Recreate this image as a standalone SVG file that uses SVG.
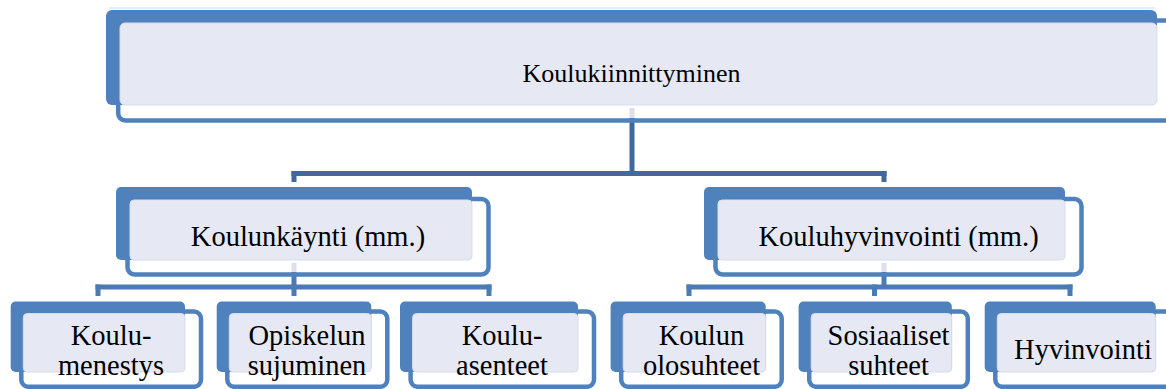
<svg xmlns="http://www.w3.org/2000/svg" width="1166" height="389" viewBox="0 0 1166 389">
<style>
.b{fill:#4F81BD}
.l{fill:#E6E9F4;stroke:#D8DDEC;stroke-width:1}
.f{fill:none;stroke:#4F81BD;stroke-width:4.5}
.t{font-family:'Liberation Serif','DejaVu Serif',serif;font-size:28.5px;fill:#000;text-anchor:middle}
.tt{font-size:26px}
.c1{fill:#41699C}
.c2{fill:#4B7AB5}
.g{fill:#DCE0EC}
</style>
<rect width="1166" height="389" fill="#FFFFFF"/>
<g id="connectors">
<rect class="g" x="629.5" y="108" width="5" height="10"/>
<rect class="c1" x="629.5" y="118" width="5" height="58"/>
<rect class="c1" x="291.5" y="171" width="595" height="5"/>
<rect class="c1" x="291.5" y="171" width="5" height="11"/>
<rect class="c1" x="881.5" y="171" width="5" height="11"/>
<rect class="g" x="291.5" y="263" width="5" height="9"/>
<rect class="c2" x="291.5" y="272" width="5" height="15"/>
<rect class="c2" x="95.5" y="284.5" width="396" height="5"/>
<rect class="c2" x="95.5" y="284.5" width="5" height="11.5"/>
<rect class="c2" x="291.5" y="284.5" width="5" height="11.5"/>
<rect class="c2" x="486.5" y="284.5" width="5" height="11.5"/>
<rect class="g" x="881.5" y="263" width="5" height="9"/>
<rect class="c2" x="881.5" y="272" width="5" height="15"/>
<rect class="c2" x="686.5" y="284.5" width="386" height="5"/>
<rect class="c2" x="686.5" y="284.5" width="5" height="11.5"/>
<rect class="c2" x="872" y="284.5" width="5" height="11.5"/>
<rect class="c2" x="1067.5" y="284.5" width="5" height="11.5"/>
</g>
<g id="n0">
<rect class="f" x="118.2" y="20.5" width="1070" height="100" rx="7"/>
<line x1="109" y1="8" x2="1155" y2="8" stroke="#CFDBEC" stroke-width="1"/>
<rect class="b" x="106" y="10" width="1051" height="95" rx="6"/>
<rect class="l" x="120" y="23" width="1037" height="82" rx="5"/>
<text class="t tt" x="631.5" y="82">Koulukiinnittyminen</text>
</g>
<g id="n1">
<rect class="f" x="127.5" y="199" width="361" height="75.5" rx="7"/>
<rect class="b" x="116" y="187" width="356" height="73" rx="5"/>
<rect class="l" x="130" y="200" width="342" height="60" rx="4"/>
<text class="t" x="308" y="246">Koulunkäynti (mm.)</text>
</g>
<g id="n2">
<rect class="f" x="715.5" y="199" width="366" height="75.5" rx="7"/>
<rect class="b" x="704" y="187" width="361" height="73" rx="5"/>
<rect class="l" x="718" y="200" width="347" height="60" rx="4"/>
<text class="t" x="898.5" y="246">Kouluhyvinvointi (mm.)</text>
</g>
<g id="n3">
<rect class="f" x="21.3" y="311.5" width="179.7" height="75.3" rx="7"/>
<rect class="b" x="10.7" y="301.5" width="174.3" height="70.5" rx="5"/>
<rect class="l" x="23.3" y="313.5" width="161.7" height="58.5" rx="4"/>
<text class="t" x="111" y="345">Koulu-</text>
<text class="t" x="111" y="375">menestys</text>
</g>
<g id="n4">
<rect class="f" x="227.3" y="311.5" width="160" height="75.3" rx="7"/>
<rect class="b" x="216.7" y="301.5" width="154.6" height="70.5" rx="5"/>
<rect class="l" x="229.3" y="313.5" width="142" height="58.5" rx="4"/>
<text class="t" x="307" y="345">Opiskelun</text>
<text class="t" x="307" y="375">sujuminen</text>
</g>
<g id="n5">
<rect class="f" x="410.6" y="311.5" width="183.4" height="75.3" rx="7"/>
<rect class="b" x="400" y="301.5" width="178" height="70.5" rx="5"/>
<rect class="l" x="412.6" y="313.5" width="165.4" height="58.5" rx="4"/>
<text class="t" x="502" y="345">Koulu-</text>
<text class="t" x="502" y="375">asenteet</text>
</g>
<g id="n6">
<rect class="f" x="621.2" y="311.5" width="160.5" height="75.3" rx="7"/>
<rect class="b" x="610.6" y="301.5" width="155.1" height="70.5" rx="5"/>
<rect class="l" x="623.2" y="313.5" width="142.5" height="58.5" rx="4"/>
<text class="t" x="701.5" y="345">Koulun</text>
<text class="t" x="701.5" y="375">olosuhteet</text>
</g>
<g id="n7">
<rect class="f" x="809.2" y="311.5" width="158.6" height="75.3" rx="7"/>
<rect class="b" x="798.6" y="301.5" width="153.2" height="70.5" rx="5"/>
<rect class="l" x="811.2" y="313.5" width="140.6" height="58.5" rx="4"/>
<text class="t" x="888.5" y="345">Sosiaaliset</text>
<text class="t" x="888.5" y="375">suhteet</text>
</g>
<g id="n8">
<rect class="f" x="995.3" y="311.5" width="176.4" height="75.3" rx="7"/>
<rect class="b" x="984.7" y="301.5" width="171" height="70.5" rx="5"/>
<rect class="l" x="997.3" y="313.5" width="158.4" height="58.5" rx="4"/>
<text class="t" x="1083" y="359">Hyvinvointi</text>
</g>
</svg>
